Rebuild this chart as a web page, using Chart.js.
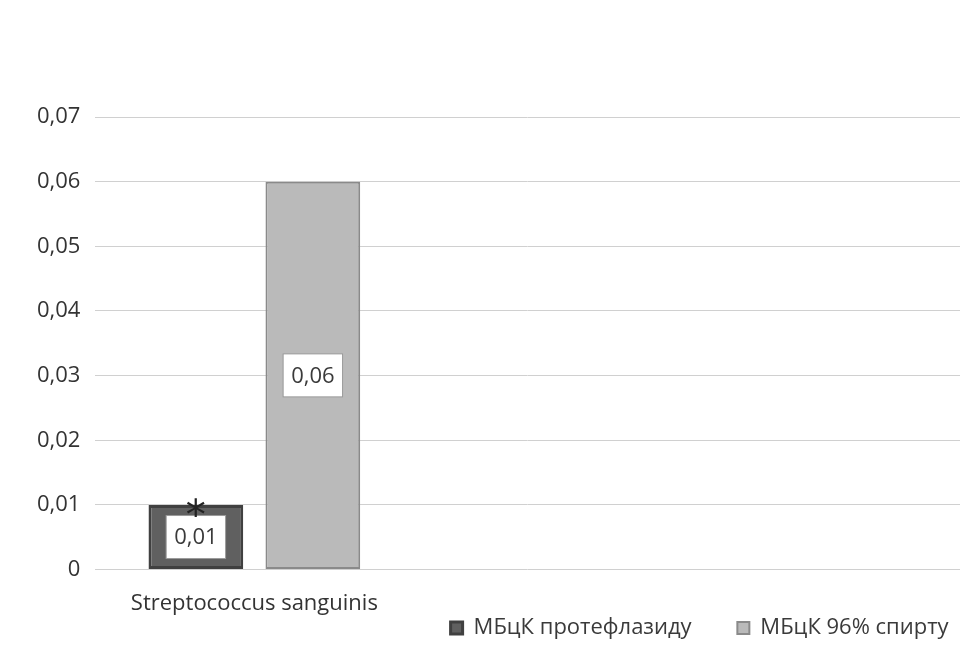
<!DOCTYPE html>
<html>
<head>
<meta charset="utf-8">
<script src="https://cdn.jsdelivr.net/npm/chart.js@4"></script>
<style>
  html, body { margin: 0; padding: 0; background: #fff; }
  #wrap { width: 969px; height: 648px; }
</style>
</head>
<body>
<div id="wrap"><canvas id="chart"></canvas></div>
<script>
const categories = ['Streptococcus sanguinis', '', ''];
const seriesNames = ['МБцК протефлазиду', 'МБцК 96% спирту'];
const protoValues = [0.01, null, null];
const spiritValues = [0.06, null, null];
const valueLabels = [['0,01', '', ''], ['0,06', '', '']];
const markLabels = [['*', '', ''], ['', '', '']];
const yTickLabels = ['0', '0,01', '0,02', '0,03', '0,04', '0,05', '0,06', '0,07'];

const FONT = "'Open Sans', 'Noto Sans', sans-serif";

// white boxed value labels in the middle of each bar, star on top of the first one
const barLabels = {
    id: 'barLabels',
    afterDatasetsDraw(chart) {
        const ctx = chart.ctx;
        ctx.save();
        chart.data.datasets.forEach((ds, di) => {
            chart.getDatasetMeta(di).data.forEach((bar, i) => {
                if (ds.data[i] == null) return;
                const mid = (bar.y + bar.base) / 2;
                const text = valueLabels[di][i];
                ctx.font = '22px ' + FONT;
                const w = ctx.measureText(text).width + 16;
                const h = 43;
                ctx.fillStyle = '#fff';
                ctx.fillRect(bar.x - w / 2, mid - h / 2, w, h);
                ctx.strokeStyle = '#9a9a9a';
                ctx.lineWidth = 1;
                ctx.strokeRect(bar.x - w / 2, mid - h / 2, w, h);
                ctx.fillStyle = '#3a3a3a';
                ctx.textAlign = 'center';
                ctx.textBaseline = 'middle';
                ctx.fillText(text, bar.x, mid + 1);
                const mark = markLabels[di][i];
                if (mark) {
                    ctx.font = '40px DejaVu Sans, sans-serif';
                    ctx.fillStyle = '#222';
                    ctx.fillText(mark, bar.x, bar.y + 14);
                }
            });
        });
        ctx.restore();
    }
};

// legend padding is 0 to keep it close to the axis, so gaps come from trailing spaces
const legendGaps = ['        ', '  '];

new Chart(document.getElementById('chart'), {
    type: 'bar',
    data: {
        labels: categories,
        datasets: [{
            label: seriesNames[0],
            data: protoValues,
            backgroundColor: '#606060',
            borderColor: '#404040',
            borderWidth: 3,
            borderSkipped: false
        }, {
            label: seriesNames[1],
            data: spiritValues,
            backgroundColor: '#bababa',
            borderColor: '#8a8a8a',
            borderWidth: 2,
            borderSkipped: false
        }]
    },
    options: {
        responsive: true,
        maintainAspectRatio: false,
        animation: false,
        categoryPercentage: 0.736,
        barPercentage: 0.81,
        layout: { padding: { top: 117, right: 9, left: 22, bottom: 9 } },
        scales: {
            x: {
                // hidden grid, the tick length only spaces the label away from the axis
                grid: { display: false, drawTicks: true, tickLength: 21 },
                border: { display: false },
                ticks: { color: '#333', font: { family: FONT, size: 22 }, maxRotation: 0, padding: 0 },
                // the picture shows only part of the category axis
                afterBuildTicks: s => { s._valueRange = 2.72; }
            },
            y: {
                min: 0,
                max: 0.07,
                grid: { color: '#d0d0d0', lineWidth: 1, drawTicks: false },
                border: { display: false },
                ticks: {
                    stepSize: 0.01,
                    padding: 15,
                    color: '#333',
                    font: { family: FONT, size: 22 },
                    callback: (v, i) => yTickLabels[i]
                }
            }
        },
        plugins: {
            legend: {
                position: 'bottom',
                align: 'end',
                maxHeight: 22,
                labels: {
                    boxWidth: 12,
                    boxHeight: 12,
                    padding: 0,
                    color: '#3a3a3a',
                    font: { family: FONT, size: 22 },
                    generateLabels: chart => Chart.defaults.plugins.legend.labels.generateLabels(chart)
                        .map((item, i) => ({ ...item, text: item.text + legendGaps[i] }))
                }
            },
            tooltip: { enabled: false }
        }
    },
    plugins: [barLabels]
});
</script>
</body>
</html>
